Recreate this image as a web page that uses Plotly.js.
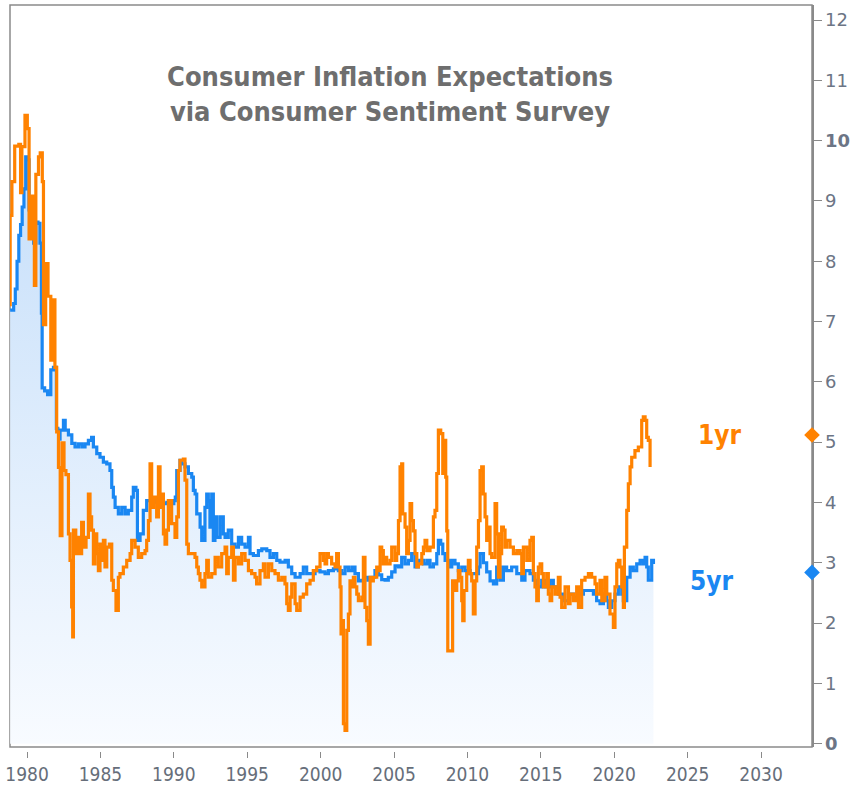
<!DOCTYPE html>
<html>
<head>
<meta charset="utf-8">
<script src="https://cdn.plot.ly/plotly-3.0.1.min.js"></script>
<style>html,body{margin:0;padding:0;background:#fff;}#chart{width:855px;height:789px;}</style>
</head>
<body>
<div id="chart"></div>
<script>
// 1-year ahead expected inflation (decimal year, %)
const oneYrDates = [1978.78,1978.85,1978.97,1979.16,1979.44,1979.56,1979.65,1979.86,1980.02,1980.14,1980.30,1980.50,1980.60,1980.78,1980.90,1981.04,1981.12,1981.27,1981.43,1981.62,1981.79,1981.90,1982.02,1982.14,1982.26,1982.38,1982.52,1982.65,1982.82,1982.93,1983.04,1983.11,1983.16,1983.32,1983.50,1983.61,1983.72,1983.84,1984.02,1984.18,1984.29,1984.40,1984.52,1984.63,1984.75,1984.86,1984.97,1985.09,1985.20,1985.31,1985.43,1985.61,1985.77,1985.88,1986.06,1986.22,1986.33,1986.56,1986.79,1987.02,1987.13,1987.36,1987.58,1987.81,1988.04,1988.15,1988.27,1988.38,1988.49,1988.61,1988.83,1988.95,1989.06,1989.17,1989.29,1989.40,1989.51,1989.63,1989.85,1990.08,1990.20,1990.31,1990.42,1990.65,1990.76,1990.88,1990.99,1991.22,1991.44,1991.56,1991.67,1991.78,1991.90,1992.12,1992.24,1992.35,1992.58,1992.81,1993.03,1993.26,1993.49,1993.60,1993.71,1993.94,1994.06,1994.17,1994.40,1994.62,1994.85,1995.08,1995.30,1995.53,1995.64,1995.87,1996.10,1996.21,1996.44,1996.67,1996.89,1997.12,1997.35,1997.57,1997.69,1997.80,1997.92,1998.03,1998.26,1998.37,1998.60,1998.82,1999.05,1999.28,1999.50,1999.73,1999.96,2000.19,2000.30,2000.41,2000.53,2000.75,2000.98,2001.09,2001.21,2001.32,2001.39,2001.48,2001.55,2001.66,2001.78,2001.89,2002.00,2002.12,2002.23,2002.34,2002.46,2002.57,2002.80,2002.91,2003.02,2003.14,2003.25,2003.37,2003.48,2003.59,2003.82,2003.93,2004.05,2004.16,2004.27,2004.39,2004.50,2004.73,2004.84,2005.07,2005.18,2005.30,2005.41,2005.52,2005.59,2005.75,2005.86,2005.98,2006.09,2006.20,2006.32,2006.43,2006.55,2006.66,2006.89,2007.00,2007.11,2007.23,2007.45,2007.68,2007.79,2007.91,2008.02,2008.18,2008.32,2008.41,2008.52,2008.59,2008.66,2008.88,2008.99,2009.15,2009.27,2009.38,2009.49,2009.61,2009.68,2009.77,2009.95,2010.06,2010.18,2010.29,2010.40,2010.52,2010.63,2010.75,2010.86,2010.97,2011.08,2011.20,2011.31,2011.43,2011.54,2011.65,2011.88,2011.99,2012.11,2012.22,2012.33,2012.45,2012.56,2012.67,2012.90,2013.13,2013.36,2013.58,2013.70,2013.81,2014.04,2014.26,2014.38,2014.49,2014.60,2014.72,2014.83,2014.95,2015.06,2015.17,2015.40,2015.51,2015.63,2015.74,2015.97,2016.19,2016.31,2016.42,2016.65,2016.88,2016.99,2017.22,2017.44,2017.56,2017.78,2018.01,2018.24,2018.46,2018.69,2018.80,2019.03,2019.15,2019.37,2019.49,2019.71,2019.94,2020.05,2020.17,2020.28,2020.39,2020.51,2020.62,2020.69,2020.85,2020.96,2021.08,2021.19,2021.41,2021.64,2021.87,2021.98,2022.10,2022.21,2022.32,2022.44];
const oneYrValues = [7.28,8.76,9.32,9.91,9.94,9.14,9.90,10.42,10.20,8.37,9.08,7.60,9.44,9.73,9.80,9.32,6.95,7.96,7.42,6.36,7.36,6.24,5.17,4.58,3.45,4.99,4.53,4.46,3.48,3.04,2.27,1.77,3.54,3.15,3.42,3.15,3.67,3.26,3.42,4.14,3.76,3.54,2.98,3.48,3.15,2.87,3.31,3.04,3.37,2.93,3.26,3.31,2.71,2.54,2.21,2.76,2.82,2.93,3.04,3.15,3.37,3.26,3.09,3.15,3.20,3.37,3.70,4.64,3.92,4.09,3.76,4.59,3.92,4.14,3.48,3.31,3.54,4.03,3.65,3.42,3.76,4.53,4.70,4.72,4.37,3.31,3.15,3.15,3.09,2.93,2.82,2.71,2.60,2.82,3.04,2.76,2.82,3.09,2.93,3.15,3.26,2.82,3.09,3.26,2.71,3.09,2.98,3.15,3.04,2.87,2.82,2.76,2.65,2.87,2.98,2.76,2.98,2.87,2.82,2.71,2.76,2.65,2.32,2.21,2.43,2.65,2.32,2.21,2.43,2.48,2.65,2.71,2.87,2.93,3.15,3.04,2.98,3.15,3.09,2.98,2.93,3.15,2.93,2.60,1.82,2.04,0.33,0.22,1.88,2.15,2.70,2.60,2.76,2.60,2.48,2.37,2.43,3.09,2.26,2.04,1.65,2.76,2.70,2.76,2.93,2.87,3.26,3.20,2.98,3.09,2.98,3.04,3.26,3.04,3.15,3.70,4.59,4.64,3.81,3.59,3.15,3.37,3.98,3.70,3.53,3.15,2.93,2.98,3.15,3.26,3.37,3.20,3.26,3.76,3.87,4.48,5.20,5.14,4.48,5.03,4.42,3.53,1.54,1.54,2.70,2.54,2.70,2.87,2.76,2.37,2.04,2.54,2.82,3.04,2.82,2.70,2.15,2.70,3.26,3.70,4.53,4.59,4.14,3.76,3.37,3.59,3.15,3.09,3.98,3.48,2.76,3.15,3.59,3.54,3.26,3.37,3.26,3.15,3.20,3.15,2.82,3.26,3.04,3.37,3.42,2.82,2.60,2.37,2.93,2.98,2.82,2.60,2.82,2.48,2.37,2.60,2.48,2.76,2.43,2.26,2.60,2.32,2.48,2.37,2.60,2.26,2.71,2.76,2.82,2.76,2.65,2.48,2.71,2.37,2.76,2.48,2.15,1.93,2.60,2.98,3.04,2.93,2.60,2.26,3.26,3.87,4.31,4.59,4.75,4.86,4.92,5.36,5.42,5.36,5.08,5.03,4.59];

// 5-year ahead expected inflation (decimal year, %)
const fiveYrDates = [1978.85,1979.09,1979.20,1979.32,1979.44,1979.56,1979.67,1979.79,1979.91,1980.02,1980.14,1980.26,1980.45,1980.60,1980.75,1980.88,1980.98,1981.03,1981.20,1981.40,1981.62,1981.80,1982.00,1982.10,1982.20,1982.25,1982.48,1982.60,1982.82,1983.05,1983.27,1983.50,1983.73,1983.95,1984.18,1984.40,1984.52,1984.75,1984.97,1985.20,1985.43,1985.65,1985.77,1985.88,1986.00,1986.22,1986.45,1986.68,1986.90,1987.13,1987.24,1987.42,1987.52,1987.70,1987.92,1988.15,1988.38,1988.60,1988.83,1989.06,1989.29,1989.52,1989.74,1990.00,1990.10,1990.20,1990.42,1990.53,1990.76,1990.99,1991.22,1991.33,1991.45,1991.56,1991.79,1991.90,1992.12,1992.24,1992.35,1992.46,1992.58,1992.69,1992.80,1992.92,1993.15,1993.37,1993.49,1993.71,1993.94,1994.17,1994.40,1994.62,1994.85,1995.08,1995.19,1995.42,1995.76,1995.99,1996.33,1996.55,1996.78,1997.01,1997.23,1997.58,1997.80,1998.03,1998.26,1998.60,1998.82,1999.05,1999.39,1999.62,1999.96,2000.30,2000.53,2000.87,2001.21,2001.43,2001.66,2001.89,2002.12,2002.34,2002.57,2002.80,2003.02,2003.25,2003.48,2003.70,2003.93,2004.16,2004.39,2004.61,2004.84,2005.07,2005.30,2005.52,2005.75,2005.98,2006.20,2006.43,2006.66,2007.00,2007.23,2007.45,2007.68,2007.91,2008.02,2008.18,2008.32,2008.48,2008.71,2008.93,2009.15,2009.38,2009.61,2009.84,2010.18,2010.52,2010.75,2010.86,2011.09,2011.31,2011.54,2011.77,2011.99,2012.22,2012.45,2012.67,2013.01,2013.36,2013.70,2013.92,2014.26,2014.49,2014.72,2015.06,2015.29,2015.63,2015.85,2016.19,2016.53,2016.88,2017.22,2017.56,2017.90,2018.24,2018.58,2018.80,2019.03,2019.26,2019.49,2019.60,2019.83,2020.05,2020.28,2020.51,2020.62,2020.85,2021.08,2021.30,2021.53,2021.76,2021.98,2022.10,2022.21,2022.32,2022.55,2022.67];
const fiveYrValues = [7.19,7.30,7.54,8.00,8.43,8.61,8.90,9.20,9.73,9.68,8.85,8.49,8.30,8.65,8.63,8.30,7.14,5.90,5.85,5.79,6.20,6.24,5.23,5.20,5.05,5.20,5.36,5.20,5.12,4.98,4.92,4.97,4.92,4.97,5.03,5.08,4.92,4.81,4.75,4.67,4.64,4.53,4.25,4.09,3.92,3.81,3.92,3.81,3.87,4.09,4.25,4.20,3.37,3.48,3.87,4.03,4.03,4.00,4.03,3.98,3.98,4.00,3.98,4.03,4.09,4.53,4.70,4.64,4.59,4.48,4.42,4.20,4.14,3.81,3.59,3.37,3.92,4.14,4.03,3.59,4.14,3.37,3.76,3.42,3.76,3.48,3.42,3.54,3.31,3.26,3.42,3.31,3.26,3.42,3.15,3.12,3.20,3.23,3.20,3.09,3.15,3.04,3.01,3.04,2.93,2.82,2.76,2.82,2.93,2.82,2.82,2.87,2.85,2.82,2.87,2.90,2.87,2.82,2.93,2.87,2.93,2.82,2.70,2.71,2.76,2.71,2.76,2.87,2.80,2.72,2.71,2.76,2.85,2.95,2.93,3.09,2.98,3.04,3.15,2.93,3.04,2.98,3.04,2.93,2.98,3.15,3.37,3.31,3.15,3.04,2.93,3.04,2.98,2.87,2.93,2.87,2.82,2.82,2.93,3.15,3.00,2.85,2.70,2.65,2.93,2.71,2.93,2.87,2.93,2.82,2.71,2.87,2.82,2.71,2.60,2.71,2.60,2.71,2.60,2.48,2.37,2.48,2.43,2.48,2.54,2.54,2.48,2.37,2.32,2.48,2.37,2.26,2.37,2.48,2.60,2.48,2.37,2.76,2.93,2.87,2.98,3.04,2.98,3.09,2.93,2.71,3.04,2.98];

// latest readings shown as markers on the right axis
const seriesNames = ['1yr', '5yr'];
const latestValues = [5.12, 2.84];

const yTickVals = [0,1,2,3,4,5,6,7,8,9,10,11,12];
const yTickText = ['<b>0</b>','1','2','3','4','5','6','7','8','9','<b>10</b>','11','12'];
const xTickVals = [1980,1985,1990,1995,2000,2005,2010,2015,2020,2025,2030];

const ORANGE = '#ff8200';
const BLUE = '#1a87f2';
const xRange = [1978.84, 2033.47];
const yRange = [-0.055, 12.25];
const markerX = xRange[1];

const traces = [
  {
    x: fiveYrDates, y: fiveYrValues, type: 'scatter', mode: 'lines',
    line: {color: BLUE, width: 3.2, shape: 'hv'},
    fill: 'tozeroy',
    fillgradient: {type: 'vertical', colorscale: [[0, 'rgba(248,251,255,1)'], [1, 'rgba(198,223,250,1)']]},
    hoverinfo: 'skip'
  },
  {
    x: oneYrDates, y: oneYrValues, type: 'scatter', mode: 'lines',
    line: {color: ORANGE, width: 3.2, shape: 'hv'},
    hoverinfo: 'skip'
  },
  {
    x: [markerX, markerX], y: latestValues, type: 'scatter', mode: 'markers',
    marker: {symbol: 'diamond', size: 12, color: [ORANGE, BLUE], line: {width: 0}},
    cliponaxis: false, hoverinfo: 'skip'
  }
];

const layout = {
  width: 855, height: 789,
  margin: {l: 10, r: 43, t: 5, b: 38},
  paper_bgcolor: '#ffffff', plot_bgcolor: '#ffffff',
  showlegend: false,
  title: {
    text: 'Consumer Inflation Expectations<br>via Consumer Sentiment Survey',
    x: 390/855, xref: 'container', xanchor: 'center',
    y: 1 - 86/789, yref: 'container', yanchor: 'middle',
    font: {family: 'DejaVu Sans Condensed, Noto Sans, sans-serif', size: 27, color: '#6e6e6e', weight: 'bold'}
  },
  xaxis: {
    range: xRange, showgrid: false, zeroline: false, showline: false,
    tickvals: xTickVals, ticks: 'outside', ticklen: 6, tickcolor: '#8a8a8a', tickwidth: 1,
    tickfont: {family: 'Liberation Sans Narrow, DejaVu Sans Condensed, Roboto Condensed, sans-serif', size: 19, color: '#666e7a'},
    anchor: 'free', position: 0
  },
  yaxis: {
    range: yRange, domain: [0.0054, 1], side: 'right', showgrid: false, zeroline: false,
    showline: true, linecolor: '#8a8a8a', linewidth: 1.5, mirror: false, layer: 'below traces',
    tickvals: yTickVals, ticktext: yTickText, ticks: 'outside', ticklen: 8, tickcolor: '#8a8a8a', tickwidth: 1,
    tickfont: {family: 'DejaVu Sans, Verdana, sans-serif', size: 18, color: '#6c7585'}
  },
  shapes: [
    {type: 'rect', xref: 'x domain', yref: 'y domain', x0: 0, x1: 1, y0: 0, y1: 1,
     line: {color: '#8a8a8a', width: 1.5}, fillcolor: 'rgba(0,0,0,0)', layer: 'below'}
  ],
  annotations: [
    {text: '<b>' + seriesNames[0] + '</b>', x: 2027.2, y: 5.12, xref: 'x', yref: 'y', showarrow: false,
     font: {family: 'DejaVu Sans Condensed, Noto Sans, sans-serif', size: 26, color: ORANGE}},
    {text: '<b>' + seriesNames[1] + '</b>', x: 2026.65, y: 2.7, xref: 'x', yref: 'y', showarrow: false,
     font: {family: 'DejaVu Sans Condensed, Noto Sans, sans-serif', size: 26, color: BLUE}}
  ]
};

Plotly.newPlot('chart', traces, layout, {displayModeBar: false, staticPlot: true});
</script>
</body>
</html>
